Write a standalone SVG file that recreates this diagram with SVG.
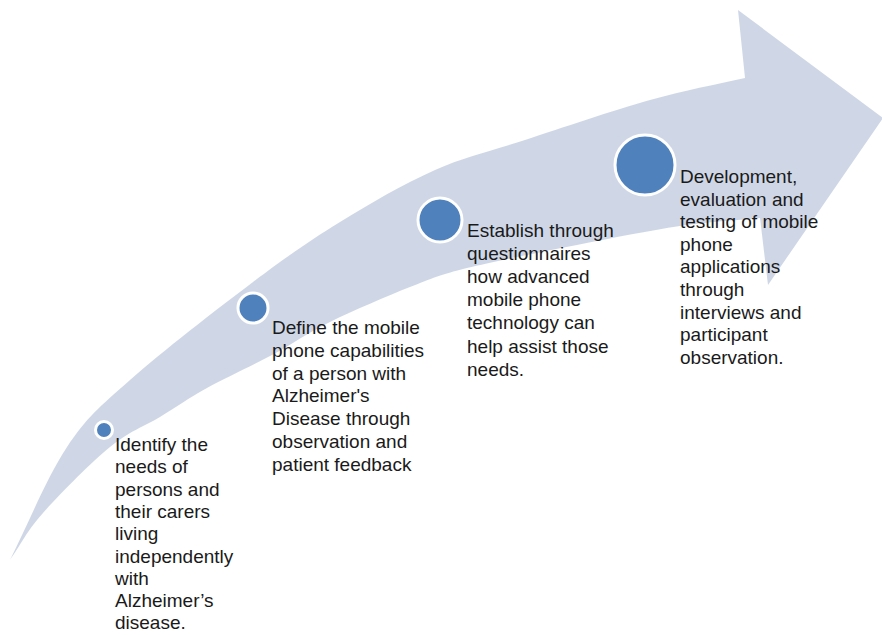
<svg xmlns="http://www.w3.org/2000/svg" width="882" height="635" viewBox="0 0 882 635">
  <style>
    .band { fill: #cfd7e7; }
    .dot { fill: #4f81bd; stroke: #ffffff; stroke-width: 3; }
    .label { font-family: "Liberation Sans", Arial, sans-serif; font-size: 19px; fill: #1a1a1a; }
  </style>
  <rect width="882" height="635" fill="#ffffff"/>

  <!-- curved progress arrow -->
  <g id="arrow">
    <path class="band" d="M10,560
      C29,522.3 47,477 67,447
      C87,417 99,407.5 130,380
      C161,352.5 218,308.3 253,282
      C288,255.7 309.7,240.7 340,222
      C370.3,203.3 404.2,183.7 435,170
      C465.8,156.3 489.2,151.7 525,140
      C560.8,128.3 613.3,110.3 650,100
      C686.7,89.7 713.3,85.3 745,78
      L738,10 L883,118 L768,285 L760,218
      C733.3,220.7 710.5,221.5 680,226
      C649.5,230.5 612.5,238 577,245
      C541.5,252 494.8,261 467,268
      C439.2,275 432.8,278 410,287
      C387.2,296 353,310.7 330,322
      C307,333.3 292.5,344 272,355
      C251.5,366 225.7,377.7 207,388
      C188.3,398.3 176.2,407.2 160,417
      C143.8,426.8 129.5,431 110,447
      C90.5,463 59.7,494.2 43,513
      C26.3,531.8 21,544.3 10,560 Z"/>
  </g>

  <g id="step1">
    <circle class="dot" cx="104" cy="430" r="8.5"/>
    <text class="label" x="115" y="451">
      <tspan x="115">Identify the</tspan>
      <tspan x="115" dy="22.3">needs of</tspan>
      <tspan x="115" dy="22.3">persons and</tspan>
      <tspan x="115" dy="22.3">their carers</tspan>
      <tspan x="115" dy="22.3">living</tspan>
      <tspan x="115" dy="22.3">independently</tspan>
      <tspan x="115" dy="22.3">with</tspan>
      <tspan x="115" dy="22.3">Alzheimer’s</tspan>
      <tspan x="115" dy="22.3">disease.</tspan>
    </text>
  </g>

  <g id="step2">
    <circle class="dot" cx="253" cy="308" r="15"/>
    <text class="label" x="272" y="334">
      <tspan x="272">Define the mobile</tspan>
      <tspan x="272" dy="22.8">phone capabilities</tspan>
      <tspan x="272" dy="22.8">of a person with</tspan>
      <tspan x="272" dy="22.8">Alzheimer's</tspan>
      <tspan x="272" dy="22.8">Disease through</tspan>
      <tspan x="272" dy="22.8">observation and</tspan>
      <tspan x="272" dy="22.8">patient feedback</tspan>
    </text>
  </g>

  <g id="step3">
    <circle class="dot" cx="440" cy="220" r="22"/>
    <text class="label" x="467" y="237">
      <tspan x="467">Establish through</tspan>
      <tspan x="467" dy="23.1">questionnaires</tspan>
      <tspan x="467" dy="23.1">how advanced</tspan>
      <tspan x="467" dy="23.1">mobile phone</tspan>
      <tspan x="467" dy="23.1">technology can</tspan>
      <tspan x="467" dy="23.1">help assist those</tspan>
      <tspan x="467" dy="23.1">needs.</tspan>
    </text>
  </g>

  <g id="step4">
    <circle class="dot" cx="645" cy="165" r="30"/>
    <text class="label" x="680" y="183">
      <tspan x="680">Development,</tspan>
      <tspan x="680" dy="22.6">evaluation and</tspan>
      <tspan x="680" dy="22.6">testing of mobile</tspan>
      <tspan x="680" dy="22.6">phone</tspan>
      <tspan x="680" dy="22.6">applications</tspan>
      <tspan x="680" dy="22.6">through</tspan>
      <tspan x="680" dy="22.6">interviews and</tspan>
      <tspan x="680" dy="22.6">participant</tspan>
      <tspan x="680" dy="22.6">observation.</tspan>
    </text>
  </g>
</svg>
